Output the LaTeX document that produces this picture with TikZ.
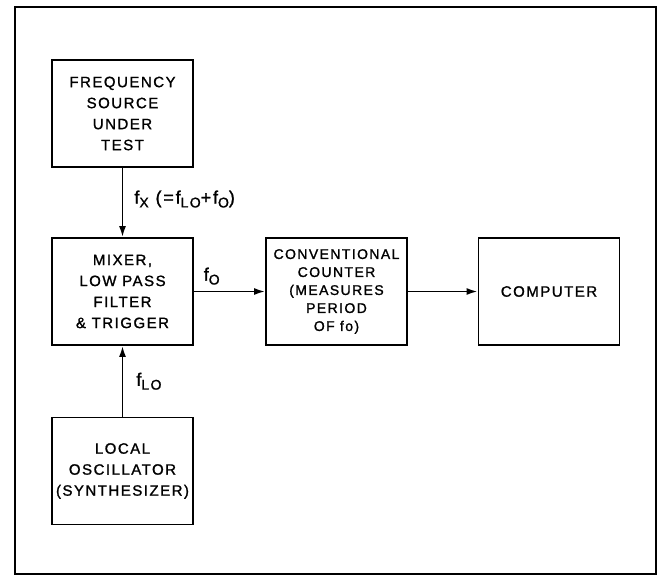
\documentclass[tikz,border=0pt]{standalone}
\usepackage{fontspec}
\setmainfont{Liberation Sans}[LetterSpace=10, FakeBold=1.3]
\usetikzlibrary{positioning, arrows.meta}
\newcommand{\fsub}[1]{f\raisebox{-0.4ex}{\fontsize{14}{14}\selectfont #1}}

\begin{document}
\begin{tikzpicture}[x=1pt, y=-1pt, node distance=178pt and 214pt, on grid,
    block/.style={draw, line width=1.8pt, minimum width=141pt, minimum height=107pt,
      inner sep=0pt, align=center, font=\fontsize{15}{21}\selectfont},
    sig/.style={-{Latex[length=11pt,width=7pt]}, line width=1.8pt},
    lbl/.style={font=\fontsize{18}{20}\selectfont, inner sep=0pt}]
  \useasboundingbox (0,0) rectangle (661,576);
  \draw[line width=2pt] (15,7) rectangle (656,574);

  % Blöcke
  \node[block] (src) at (122.5,113.5) {FREQUENCY\\SOURCE\\UNDER\\TEST};
  \node[block, below=of src] (mix) {MIXER,\\LOW PASS\\FILTER\\\& TRIGGER};
  \node[block, below=179.5pt of mix] (lo) {LOCAL\\OSCILLATOR\\(SYNTHESIZER)};
  \node[block, right=of mix, font=\fontsize{14}{18}\selectfont] (cnt)
    {CONVENTIONAL\\COUNTER\\(MEASURES\\PERIOD\\OF fo)};
  \node[block, right=212.5pt of cnt] (comp) {COMPUTER};

  % Signale
  \draw[sig] (src) -- node[lbl, anchor=west, xshift=11pt, pos=0.45]
    {\fsub{X} (=\fsub{LO}+\fsub{O})} (mix);
  \draw[sig] (lo) -- node[lbl, anchor=west, xshift=13pt, pos=0.5] {\fsub{LO}} (mix);
  \draw[sig] (mix) -- node[lbl, anchor=south, pos=0.25, yshift=6pt] {\fsub{O}} (cnt);
  \draw[sig] (cnt) -- (comp);
\end{tikzpicture}
\end{document}
